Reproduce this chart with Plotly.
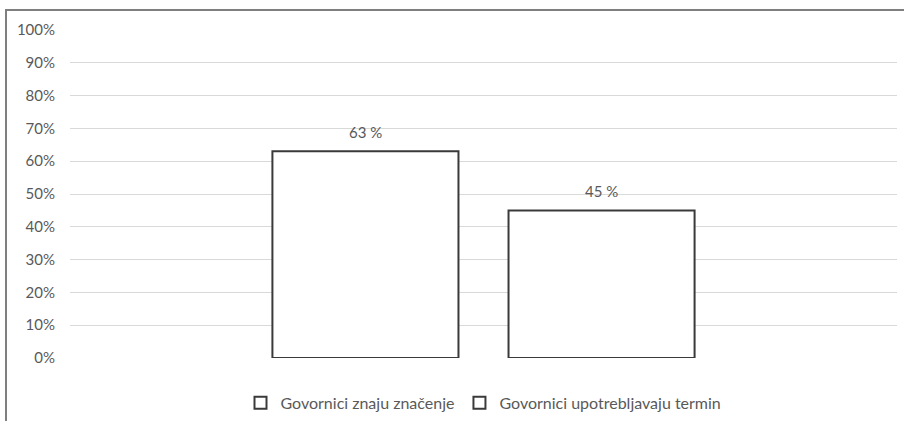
import plotly.graph_objects as go

series_names = ["Govornici znaju značenje", "Govornici upotrebljavaju termin"]
series_values = [0.63, 0.45]
value_labels = ["63 %", "45 %"]
category = [""]
tick_vals = [0, 0.1, 0.2, 0.3, 0.4, 0.5, 0.6, 0.7, 0.8, 0.9, 1.0]

FONT = "Lato, 'Open Sans', sans-serif"
GREY = "#595959"

fig = go.Figure()
for i, (name, val, lab) in enumerate(zip(series_names, series_values, value_labels)):
    fig.add_trace(go.Bar(
        x=category, y=[val], name=name,
        offsetgroup=str(i),
        marker=dict(color="white", line=dict(color="#3a3a3a", width=2)),
        hoverinfo="skip",
    ))

# plot area: x 70..897, y 30..358
L, R, T, B = 70, 7, 30, 63
W, H = 904 - L - R, 421 - T - B
def px_x(p):
    return (p - L) / W
def px_y(p):
    return (421 - B - p) / H

# value labels above bars (group slot offsets)
slot = (1 - 0.429) / 2
for i, (val, lab) in enumerate(zip(series_values, value_labels)):
    fig.add_annotation(x=(i - 0.5) * slot, y=val, text=lab, showarrow=False,
                       xref="x", yref="y", yanchor="bottom", yshift=8,
                       font=dict(family=FONT, size=15, color=GREY))

fig.add_shape(type="line", xref="paper", yref="paper",
              x0=px_x(6), x1=px_x(6), y0=px_y(430), y1=px_y(9),
              line=dict(color="#7f7f7f", width=2), layer="below")
fig.add_shape(type="line", xref="paper", yref="paper",
              x0=px_x(5), x1=px_x(915), y0=px_y(10), y1=px_y(10),
              line=dict(color="#7f7f7f", width=2), layer="below")

fig.update_layout(
    width=904, height=421,
    margin=dict(l=L, r=R, t=T, b=B, autoexpand=False),
    paper_bgcolor="white", plot_bgcolor="white",
    barmode="group", bargap=0.429, bargroupgap=0.212,
    showlegend=True,
    legend=dict(orientation="h", x=0.5, xanchor="center", y=-0.085, yanchor="top",
                font=dict(family=FONT, size=16, color=GREY),
                itemwidth=30, tracegroupgap=0, bgcolor="rgba(0,0,0,0)"),
    font=dict(family=FONT, size=14, color=GREY),
    xaxis=dict(showticklabels=False, showgrid=False, zeroline=False, showline=False,
               range=[-0.5, 0.5]),
    yaxis=dict(range=[0, 1], tickvals=tick_vals, tickformat=".0%",
               showgrid=True, gridcolor="#d9d9d9", gridwidth=1,
               zeroline=False, showline=False, ticks="",
               ticklabelstandoff=14,
               tickfont=dict(family=FONT, size=15, color=GREY)),
)

fig.write_html("out.html")
